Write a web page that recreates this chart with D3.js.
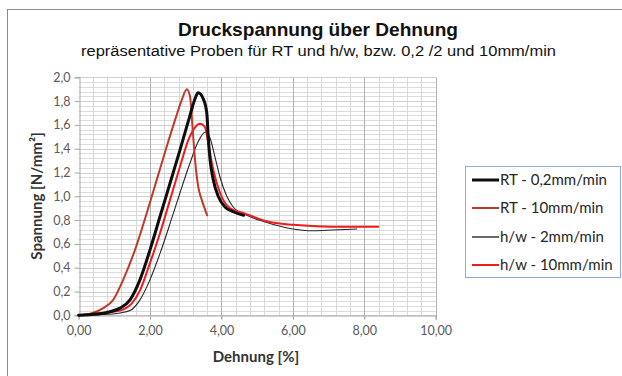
<!DOCTYPE html>
<html>
<head>
<meta charset="utf-8">
<script src="https://cdn.jsdelivr.net/npm/d3@7/dist/d3.min.js"></script>
<style>
  html, body { margin: 0; padding: 0; background: #fff; }
  svg { display: block; }
</style>
</head>
<body>
<svg id="chart" width="622" height="376"></svg>
<script>
// Compression test curves: strain [%] vs. stress [N/mm²]
const rt02X = [0, 0.50, 0.88, 1.16, 1.44, 1.72, 2.00, 2.28, 2.56, 2.84, 3.12, 3.26, 3.35, 3.49, 3.59, 3.63, 3.68, 3.77, 3.91, 4.10, 4.33, 4.62];
const rt02Y = [0, 0.01, 0.03, 0.06, 0.13, 0.30, 0.55, 0.83, 1.11, 1.39, 1.68, 1.82, 1.87, 1.82, 1.70, 1.50, 1.31, 1.14, 1.00, 0.91, 0.87, 0.84];

const rt10X = [0, 0.35, 0.69, 0.97, 1.25, 1.58, 1.91, 2.19, 2.47, 2.70, 2.89, 3.03, 3.12, 3.19, 3.26, 3.35, 3.45, 3.60];
const rt10Y = [0, 0.015, 0.06, 0.13, 0.30, 0.55, 0.86, 1.14, 1.42, 1.64, 1.81, 1.90, 1.84, 1.58, 1.31, 1.08, 0.97, 0.84];

const hw2X = [0, 0.60, 1.16, 1.44, 1.72, 2.00, 2.28, 2.56, 2.84, 3.12, 3.35, 3.55, 3.68, 3.82, 3.96, 4.15, 4.33, 4.71, 5.27, 5.92, 6.57, 6.95, 7.79];
const hw2Y = [0, 0.005, 0.02, 0.04, 0.13, 0.30, 0.52, 0.77, 1.03, 1.28, 1.46, 1.54, 1.49, 1.33, 1.16, 1.00, 0.91, 0.84, 0.78, 0.73, 0.71, 0.715, 0.725];

const hw10X = [0, 0.35, 0.69, 1.16, 1.49, 1.72, 2.00, 2.28, 2.56, 2.84, 3.07, 3.26, 3.40, 3.54, 3.63, 3.73, 3.87, 4.05, 4.24, 4.61, 5.27, 6.01, 7.04, 8.39];
const hw10Y = [0, 0.01, 0.02, 0.04, 0.10, 0.21, 0.44, 0.69, 0.97, 1.25, 1.47, 1.58, 1.61, 1.58, 1.45, 1.28, 1.11, 0.97, 0.90, 0.86, 0.79, 0.76, 0.745, 0.745];

const seriesNames = ["RT - 0,2mm/min", "RT - 10mm/min", "h/w - 2mm/min", "h/w - 10mm/min"];
const seriesColors = ["#0d0d0d", "#c0392b", "#262626", "#ee1c1c"];
const seriesWidths = [3, 2, 1.1, 2];

const xTicks = [0, 2, 4, 6, 8, 10];
const yTicks = [0, 0.2, 0.4, 0.6, 0.8, 1.0, 1.2, 1.4, 1.6, 1.8, 2.0];

const titleText = "Druckspannung über Dehnung";
const subtitleText = "repräsentative Proben für RT und h/w, bzw. 0,2 /2 und 10mm/min";
const xTitle = "Dehnung [%]";
const yTitle = "Spannung [N/mm²]";

const svg = d3.select("#chart");
const plot = { left: 78.6, right: 435.7, top: 77.3, bottom: 315.3 };

const x = d3.scaleLinear().domain([0, 10]).range([plot.left, plot.right]);
const y = d3.scaleLinear().domain([0, 2]).range([plot.bottom, plot.top]);

// outer chart frame
svg.append("rect").attr("x", 7.5).attr("y", 9.5).attr("width", 700).attr("height", 400)
  .attr("fill", "#fff").attr("stroke", "#8c8c8c").attr("stroke-width", 1);

// titles
svg.append("text").attr("x", 318).attr("y", 36).attr("text-anchor", "middle")
  .attr("font-family", "Liberation Sans, Arial, sans-serif").attr("font-weight", "bold")
  .attr("font-size", 18.5).attr("textLength", 280).attr("lengthAdjust", "spacingAndGlyphs")
  .attr("fill", "#111").text(titleText);
svg.append("text").attr("x", 318.5).attr("y", 55.5).attr("text-anchor", "middle")
  .attr("font-family", "Liberation Sans, Arial, sans-serif")
  .attr("font-size", 15.5).attr("textLength", 475).attr("lengthAdjust", "spacingAndGlyphs")
  .attr("fill", "#111").text(subtitleText);

// gridlines
const g = svg.append("g");
const hMinor = d3.range(0, 50).map(i => i * 0.04);
g.selectAll("line.hg").data(hMinor).join("line")
  .attr("x1", plot.left).attr("x2", plot.right)
  .attr("y1", d => Math.round(y(d)) + 0.5).attr("y2", d => Math.round(y(d)) + 0.5)
  .attr("stroke", "#dcdcdc").attr("stroke-width", 1);
const vMinor = d3.range(1, 25).map(i => i * 0.4).filter(v => Math.abs(v / 2 - Math.round(v / 2)) > 1e-6);
g.selectAll("line.vg").data(vMinor).join("line")
  .attr("y1", plot.top).attr("y2", plot.bottom)
  .attr("x1", d => Math.round(x(d)) + 0.5).attr("x2", d => Math.round(x(d)) + 0.5)
  .attr("stroke", "#d9d9d9").attr("stroke-width", 1);
g.selectAll("line.hmaj").data(yTicks.slice(1)).join("line")
  .attr("x1", plot.left).attr("x2", plot.right)
  .attr("y1", d => Math.round(y(d)) + 0.5).attr("y2", d => Math.round(y(d)) + 0.5)
  .attr("stroke", "#cfcfcf").attr("stroke-width", 1);
g.selectAll("line.vmaj").data(xTicks.slice(1)).join("line")
  .attr("y1", plot.top).attr("y2", plot.bottom + 4)
  .attr("x1", d => Math.round(x(d)) + 0.5).attr("x2", d => Math.round(x(d)) + 0.5)
  .attr("stroke", "#b3b3b3").attr("stroke-width", 1);

// axes
const tickFont = "Lato, 'Open Sans', sans-serif";
const yAxis = d3.axisLeft(y).tickValues(yTicks).tickSize(5).tickPadding(4)
  .tickFormat(d => d3.format(".1f")(d).replace(".", ","));
const yg = svg.append("g").attr("transform", `translate(${Math.round(plot.left) + 0.5},0)`).call(yAxis);
const xAxis = d3.axisBottom(x).tickValues(xTicks).tickSize(4).tickPadding(7)
  .tickFormat(d => d3.format(".2f")(d).replace(".", ","));
const xg = svg.append("g").attr("transform", `translate(0,${Math.round(plot.bottom) + 0.5})`).call(xAxis);
[yg, xg].forEach(a => {
  a.select(".domain").attr("stroke", "#a6a6a6");
  a.selectAll(".tick line").attr("stroke", "#a6a6a6");
  a.selectAll(".tick text").attr("font-family", tickFont).attr("font-size", 12.5).attr("fill", "#595959");
});

// axis titles
svg.append("text").attr("transform", `translate(41.5,196) rotate(-90)`).attr("text-anchor", "middle")
  .attr("font-family", tickFont).attr("font-weight", "bold").attr("font-size", 15)
  .attr("fill", "#333").text(yTitle);
svg.append("text").attr("x", 256).attr("y", 362).attr("text-anchor", "middle")
  .attr("font-family", tickFont).attr("font-weight", "bold").attr("font-size", 15)
  .attr("fill", "#333").text(xTitle);

// curves
const series = [
  { xs: rt02X, ys: rt02Y },
  { xs: rt10X, ys: rt10Y },
  { xs: hw2X, ys: hw2Y },
  { xs: hw10X, ys: hw10Y }
].map((s, i) => ({ pts: s.xs.map((v, j) => [v, s.ys[j]]), color: seriesColors[i], width: seriesWidths[i] }));

const line = d3.line().x(d => x(d[0])).y(d => y(d[1])).curve(d3.curveMonotoneX);
const drawOrder = [2, 3, 1, 0];
svg.append("g").selectAll("path").data(drawOrder.map(i => series[i])).join("path")
  .attr("d", d => line(d.pts)).attr("fill", "none")
  .attr("stroke", d => d.color).attr("stroke-width", d => d.width)
  .attr("stroke-linejoin", "round").attr("stroke-linecap", "round");

// legend
const lg = svg.append("g");
lg.append("rect").attr("x", 465.5).attr("y", 166.5).attr("width", 155).attr("height", 111)
  .attr("fill", "#fff").attr("stroke", "#8eaadb").attr("stroke-width", 1);
const ly = [180, 208, 237, 265];
seriesNames.forEach((name, i) => {
  lg.append("line").attr("x1", 472).attr("x2", 499).attr("y1", ly[i]).attr("y2", ly[i])
    .attr("stroke", i === 2 ? "#595959" : seriesColors[i]).attr("stroke-width", i === 2 ? 1.8 : seriesWidths[i]);
  lg.append("text").attr("x", 500).attr("y", ly[i] + 5)
    .attr("font-family", tickFont).attr("font-size", 15).attr("fill", "#262626").text(name);
});
</script>
</body>
</html>
